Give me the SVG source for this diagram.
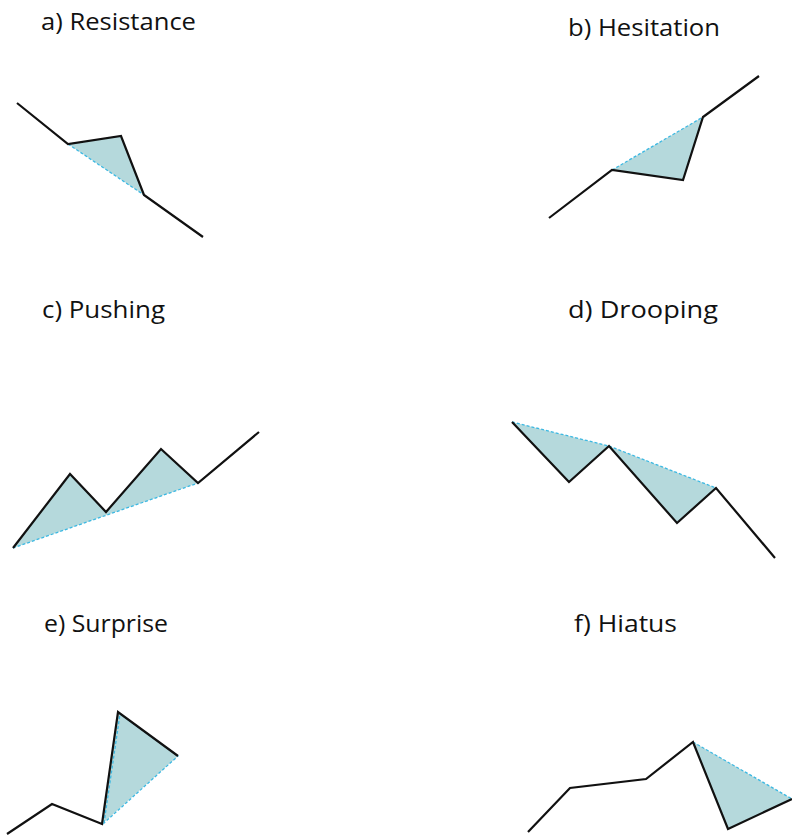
<svg xmlns="http://www.w3.org/2000/svg" width="792" height="836" viewBox="0 0 792 836">
<style>
.lbl{font-family:"Open Sans","Noto Sans","Liberation Sans",sans-serif;font-size:23.5px;fill:#111}
.fill{fill:#b5d9dc;stroke:none}
.dash{fill:none;stroke:#3cb8e2;stroke-width:1.3;stroke-dasharray:3 2}
.ln{fill:none;stroke:#111;stroke-width:2.2;stroke-linejoin:miter}
</style>
<rect width="792" height="836" fill="#fff"/>
<g id="a">
<text class="lbl" x="41" y="30" textLength="155" lengthAdjust="spacingAndGlyphs">a) Resistance</text>
<polygon class="fill" points="68,144 121,136 144,195"/>
<line class="dash" x1="68" y1="144" x2="144" y2="195"/>
<polyline class="ln" points="17,103 68,144 121,136 144,195 203,237"/>
</g>
<g id="b">
<text class="lbl" x="568" y="35.5" textLength="152" lengthAdjust="spacingAndGlyphs">b) Hesitation</text>
<polygon class="fill" points="612,170 683,180 703,117"/>
<line class="dash" x1="612" y1="170" x2="703" y2="117"/>
<polyline class="ln" points="549,218 612,170 683,180 703,117 759,76"/>
</g>
<g id="c">
<text class="lbl" x="42" y="317.5" textLength="123" lengthAdjust="spacingAndGlyphs">c) Pushing</text>
<polygon class="fill" points="13,548 70,474 106,512 161,449 198,483"/>
<line class="dash" x1="13" y1="548" x2="198" y2="483"/>
<polyline class="ln" points="13,548 70,474 106,512 161,449 198,483 259,432"/>
</g>
<g id="d">
<text class="lbl" x="568" y="317.5" textLength="150" lengthAdjust="spacingAndGlyphs">d) Drooping</text>
<polygon class="fill" points="512,422 569,482 609,446"/>
<polygon class="fill" points="609,446 677,523 716,488"/>
<polyline class="dash" points="512,422 609,446 716,488"/>
<polyline class="ln" points="512,422 569,482 609,446 677,523 716,488 775,558"/>
</g>
<g id="e">
<text class="lbl" x="44" y="631.5" textLength="124" lengthAdjust="spacingAndGlyphs">e) Surprise</text>
<polygon class="fill" points="102,824 118,712 178,756"/>
<polygon class="dash" points="104,823 120,714 178,756"/>
<polyline class="ln" points="7,834 52,804 102,824 118,712 178,756"/>
</g>
<g id="f">
<text class="lbl" x="574" y="631.5" textLength="103" lengthAdjust="spacingAndGlyphs">f) Hiatus</text>
<polygon class="fill" points="693,742 728,829 792,799"/>
<line class="dash" x1="693" y1="742" x2="792" y2="799"/>
<polyline class="ln" points="528,832 570,788 646,779 693,742 728,829 792,799"/>
</g>
</svg>
